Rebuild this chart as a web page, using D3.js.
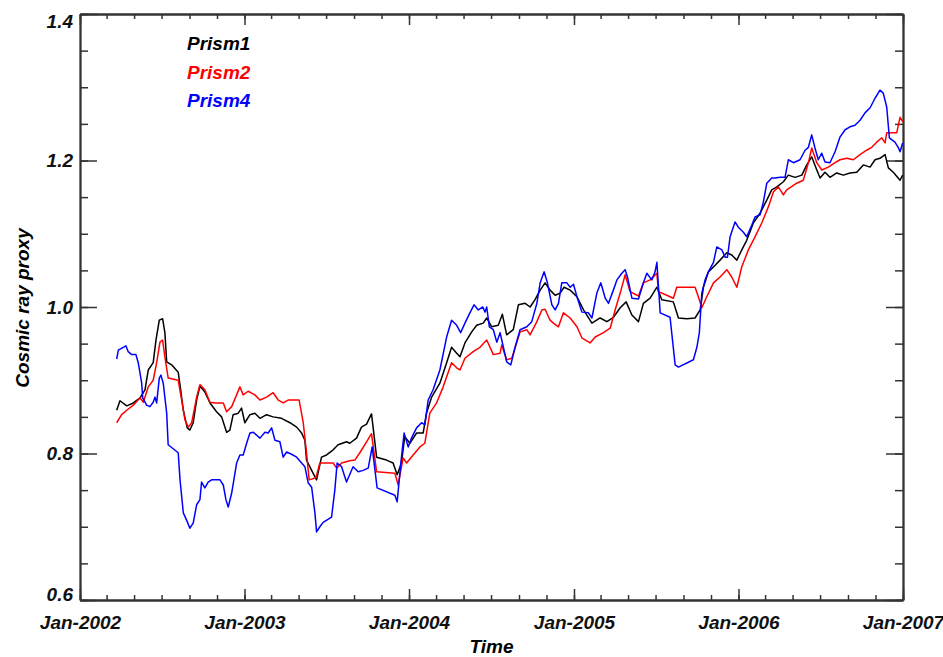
<!DOCTYPE html>
<html>
<head>
<meta charset="utf-8">
<script src="https://cdn.jsdelivr.net/npm/d3@7"></script>
<style>
  body { margin: 0; background: #fff; }
  svg { display: block; }
  .lbl { font-family: "Liberation Sans", Arial, sans-serif; font-weight: bold; font-style: italic; }
</style>
</head>
<body>
<div id="chart"></div>
<script>
// values: [decimal year, proxy value]
const prism1 = [
  [2002.223,0.859],[2002.243,0.872],[2002.284,0.865],[2002.324,0.869],[2002.365,0.876],[2002.395,0.887],
  [2002.415,0.914],[2002.445,0.924],[2002.462,0.955],[2002.482,0.982],[2002.502,0.984],[2002.516,0.965],
  [2002.527,0.925],[2002.557,0.921],[2002.597,0.911],[2002.612,0.887],[2002.628,0.859],[2002.652,0.835],
  [2002.668,0.832],[2002.688,0.842],[2002.709,0.873],[2002.729,0.892],[2002.759,0.884],[2002.790,0.869],
  [2002.830,0.857],[2002.861,0.850],[2002.891,0.829],[2002.911,0.832],[2002.931,0.853],[2002.962,0.855],
  [2002.982,0.862],[2003.002,0.842],[2003.033,0.853],[2003.063,0.855],[2003.094,0.848],[2003.134,0.853],
  [2003.174,0.850],[2003.225,0.848],[2003.276,0.842],[2003.317,0.836],[2003.347,0.828],[2003.367,0.818],
  [2003.377,0.791],[2003.408,0.777],[2003.438,0.764],[2003.468,0.795],[2003.499,0.798],[2003.539,0.805],
  [2003.569,0.812],[2003.620,0.816],[2003.640,0.814],[2003.681,0.821],[2003.711,0.836],[2003.742,0.840],
  [2003.772,0.854],[2003.803,0.795],[2003.863,0.791],[2003.903,0.787],[2003.928,0.771],[2003.954,0.787],
  [2003.974,0.823],[2004.005,0.814],[2004.046,0.828],[2004.086,0.828],[2004.106,0.855],[2004.137,0.877],
  [2004.187,0.896],[2004.228,0.924],[2004.258,0.945],[2004.289,0.937],[2004.309,0.932],[2004.339,0.951],
  [2004.380,0.966],[2004.410,0.975],[2004.450,0.978],[2004.471,0.985],[2004.501,0.973],[2004.541,0.975],
  [2004.566,0.990],[2004.592,0.962],[2004.632,0.969],[2004.663,1.003],[2004.704,1.005],[2004.734,1.000],
  [2004.764,1.010],[2004.795,1.023],[2004.825,1.033],[2004.855,1.023],[2004.886,1.016],[2004.916,1.019],
  [2004.940,1.027],[2004.977,1.023],[2005.018,1.014],[2005.058,0.996],[2005.109,0.978],[2005.159,0.985],
  [2005.200,0.980],[2005.240,0.986],[2005.281,0.999],[2005.317,1.007],[2005.352,0.989],[2005.392,0.980],
  [2005.422,1.005],[2005.463,1.012],[2005.504,1.027],[2005.534,1.010],[2005.604,1.007],[2005.635,0.985],
  [2005.686,0.984],[2005.736,0.985],[2005.767,0.996],[2005.787,1.027],[2005.817,1.048],[2005.858,1.057],
  [2005.888,1.064],[2005.929,1.074],[2005.959,1.071],[2005.990,1.064],[2006.020,1.078],[2006.050,1.091],
  [2006.091,1.115],[2006.131,1.128],[2006.172,1.146],[2006.202,1.160],[2006.233,1.164],[2006.273,1.171],
  [2006.303,1.180],[2006.344,1.177],[2006.385,1.180],[2006.415,1.194],[2006.445,1.205],[2006.476,1.187],
  [2006.496,1.176],[2006.526,1.184],[2006.556,1.177],[2006.597,1.183],[2006.637,1.180],[2006.678,1.183],
  [2006.719,1.184],[2006.759,1.194],[2006.800,1.191],[2006.830,1.201],[2006.860,1.203],[2006.891,1.208],
  [2006.911,1.190],[2006.941,1.184],[2006.982,1.173],[2006.998,1.180]
];
const prism2 = [
  [2002.223,0.842],[2002.253,0.853],[2002.284,0.859],[2002.324,0.866],[2002.365,0.876],[2002.385,0.870],
  [2002.415,0.891],[2002.445,0.900],[2002.466,0.924],[2002.486,0.952],[2002.502,0.955],[2002.516,0.932],
  [2002.536,0.903],[2002.597,0.900],[2002.618,0.873],[2002.638,0.846],[2002.658,0.836],[2002.679,0.842],
  [2002.709,0.877],[2002.729,0.894],[2002.759,0.887],[2002.790,0.870],[2002.820,0.869],[2002.871,0.869],
  [2002.891,0.857],[2002.922,0.864],[2002.952,0.880],[2002.972,0.891],[2002.992,0.880],[2003.022,0.885],
  [2003.063,0.880],[2003.094,0.873],[2003.134,0.877],[2003.174,0.883],[2003.205,0.873],[2003.235,0.869],
  [2003.265,0.873],[2003.296,0.873],[2003.332,0.873],[2003.357,0.842],[2003.377,0.801],[2003.393,0.764],
  [2003.434,0.767],[2003.458,0.787],[2003.539,0.787],[2003.560,0.780],[2003.590,0.787],[2003.640,0.790],
  [2003.671,0.791],[2003.701,0.801],[2003.742,0.816],[2003.772,0.827],[2003.803,0.775],[2003.914,0.773],
  [2003.934,0.757],[2003.964,0.794],[2003.985,0.787],[2004.025,0.798],[2004.066,0.809],[2004.096,0.814],
  [2004.126,0.855],[2004.167,0.869],[2004.207,0.891],[2004.258,0.924],[2004.289,0.917],[2004.309,0.914],
  [2004.339,0.930],[2004.389,0.939],[2004.430,0.945],[2004.471,0.955],[2004.511,0.935],[2004.552,0.937],
  [2004.562,0.948],[2004.592,0.928],[2004.623,0.930],[2004.673,0.966],[2004.714,0.969],[2004.734,0.962],
  [2004.775,0.980],[2004.805,0.996],[2004.825,0.997],[2004.855,0.982],[2004.875,0.978],[2004.906,0.973],
  [2004.936,0.992],[2004.977,0.985],[2005.018,0.973],[2005.048,0.958],[2005.098,0.951],[2005.129,0.959],
  [2005.179,0.965],[2005.220,0.971],[2005.250,0.996],[2005.281,1.019],[2005.311,1.044],[2005.341,1.021],
  [2005.392,1.015],[2005.422,1.033],[2005.463,1.037],[2005.504,1.046],[2005.513,1.021],[2005.564,1.016],
  [2005.604,1.012],[2005.625,1.027],[2005.676,1.027],[2005.736,1.027],[2005.756,1.014],[2005.777,0.999],
  [2005.807,1.014],[2005.848,1.033],[2005.888,1.041],[2005.929,1.051],[2005.959,1.041],[2005.990,1.027],
  [2006.020,1.055],[2006.060,1.078],[2006.101,1.096],[2006.142,1.115],[2006.182,1.137],[2006.212,1.157],
  [2006.242,1.164],[2006.273,1.153],[2006.293,1.160],[2006.354,1.169],[2006.394,1.173],[2006.425,1.197],
  [2006.445,1.217],[2006.476,1.197],[2006.506,1.187],[2006.546,1.191],[2006.587,1.197],[2006.617,1.201],
  [2006.658,1.203],[2006.698,1.201],[2006.739,1.208],[2006.779,1.214],[2006.810,1.218],[2006.840,1.225],
  [2006.871,1.231],[2006.891,1.224],[2006.901,1.238],[2006.962,1.238],[2006.982,1.259],[2006.998,1.253]
];
const prism4 = [
  [2002.223,0.929],[2002.233,0.941],[2002.263,0.945],[2002.279,0.947],[2002.293,0.939],[2002.314,0.935],
  [2002.340,0.935],[2002.354,0.924],[2002.375,0.896],[2002.381,0.876],[2002.405,0.866],[2002.425,0.864],
  [2002.445,0.870],[2002.456,0.877],[2002.466,0.869],[2002.482,0.903],[2002.492,0.907],[2002.506,0.896],
  [2002.527,0.855],[2002.536,0.812],[2002.597,0.801],[2002.608,0.764],[2002.628,0.719],[2002.648,0.709],
  [2002.668,0.698],[2002.688,0.705],[2002.709,0.730],[2002.729,0.737],[2002.739,0.761],[2002.759,0.753],
  [2002.779,0.761],[2002.800,0.764],[2002.851,0.764],[2002.871,0.757],[2002.887,0.737],[2002.901,0.727],
  [2002.922,0.746],[2002.952,0.787],[2002.972,0.798],[2002.992,0.798],[2003.013,0.814],[2003.033,0.828],
  [2003.053,0.829],[2003.074,0.825],[2003.094,0.821],[2003.124,0.829],[2003.144,0.828],[2003.165,0.835],
  [2003.185,0.818],[2003.215,0.816],[2003.235,0.795],[2003.256,0.802],[2003.286,0.799],[2003.317,0.795],
  [2003.347,0.787],[2003.367,0.782],[2003.387,0.760],[2003.408,0.754],[2003.428,0.719],[2003.438,0.693],
  [2003.458,0.700],[2003.478,0.706],[2003.529,0.713],[2003.549,0.750],[2003.563,0.787],[2003.590,0.782],
  [2003.620,0.761],[2003.660,0.782],[2003.691,0.775],[2003.721,0.777],[2003.752,0.780],[2003.776,0.809],
  [2003.806,0.753],[2003.914,0.743],[2003.928,0.734],[2003.948,0.782],[2003.970,0.828],[2003.995,0.809],
  [2004.015,0.821],[2004.046,0.835],[2004.076,0.842],[2004.096,0.839],[2004.116,0.873],[2004.146,0.887],
  [2004.187,0.914],[2004.228,0.959],[2004.258,0.982],[2004.289,0.975],[2004.313,0.965],[2004.339,0.978],
  [2004.369,0.992],[2004.394,1.003],[2004.420,0.996],[2004.447,1.000],[2004.461,0.993],[2004.471,1.000],
  [2004.487,0.973],[2004.511,0.969],[2004.532,0.952],[2004.552,0.965],[2004.572,0.945],[2004.592,0.925],
  [2004.617,0.921],[2004.643,0.945],[2004.673,0.969],[2004.714,0.973],[2004.744,0.980],[2004.775,1.005],
  [2004.795,1.033],[2004.819,1.048],[2004.839,1.033],[2004.866,1.003],[2004.886,0.996],[2004.906,1.005],
  [2004.926,1.033],[2004.957,1.033],[2004.977,1.027],[2004.997,1.031],[2005.018,1.014],[2005.048,0.993],
  [2005.088,0.992],[2005.109,0.985],[2005.139,1.019],[2005.163,1.033],[2005.190,1.012],[2005.210,1.005],
  [2005.236,1.021],[2005.261,1.037],[2005.291,1.046],[2005.311,1.051],[2005.325,1.041],[2005.352,1.012],
  [2005.392,1.011],[2005.422,1.033],[2005.443,1.046],[2005.473,1.037],[2005.493,1.048],[2005.504,1.061],
  [2005.524,0.992],[2005.584,0.986],[2005.615,0.921],[2005.635,0.918],[2005.726,0.928],[2005.747,0.945],
  [2005.762,0.965],[2005.777,1.019],[2005.797,1.037],[2005.817,1.048],[2005.848,1.061],[2005.868,1.082],
  [2005.899,1.078],[2005.919,1.068],[2005.933,1.068],[2005.949,1.096],[2005.979,1.116],[2005.999,1.109],
  [2006.030,1.102],[2006.050,1.096],[2006.081,1.112],[2006.101,1.123],[2006.131,1.126],[2006.151,1.143],
  [2006.172,1.169],[2006.202,1.176],[2006.222,1.176],[2006.253,1.177],[2006.283,1.177],[2006.303,1.201],
  [2006.334,1.197],[2006.374,1.201],[2006.405,1.214],[2006.425,1.218],[2006.445,1.235],[2006.465,1.217],
  [2006.485,1.201],[2006.506,1.210],[2006.526,1.198],[2006.556,1.197],[2006.587,1.212],[2006.617,1.232],
  [2006.648,1.242],[2006.678,1.246],[2006.708,1.248],[2006.739,1.255],[2006.769,1.265],[2006.800,1.272],
  [2006.830,1.285],[2006.860,1.296],[2006.880,1.292],[2006.901,1.273],[2006.917,1.231],[2006.951,1.225],
  [2006.971,1.218],[2006.982,1.212],[2006.998,1.224]
];

const seriesNames = ["Prism1", "Prism2", "Prism4"];
const seriesColors = ["#000000", "#ff0000", "#0000ff"];
const yMajorTicks = [0.6, 0.8, 1.0, 1.2, 1.4];
const yMinorTicks = [0.6, 0.65, 0.7, 0.75, 0.8, 0.85, 0.9, 0.95, 1.0, 1.05, 1.1, 1.15, 1.2, 1.25, 1.3, 1.35, 1.4];
const xLabel = "Time";
const yLabel = "Cosmic ray proxy";

const width = 943, height = 657;
const plotLeft = 80, plotRight = 903, plotTop = 14, plotBottom = 600;
const axisColor = "#333";

// decimal year -> UTC date
function toDate(v) {
    var yr = Math.floor(v);
    var a = Date.UTC(yr, 0, 1), b = Date.UTC(yr + 1, 0, 1);
    return new Date(a + (v - yr) * (b - a));
}

const x = d3.scaleUtc()
    .domain([new Date(Date.UTC(2002, 0, 1)), new Date(Date.UTC(2007, 0, 1))])
    .range([plotLeft, plotRight]);
const y = d3.scaleLinear().domain([0.6, 1.4]).range([plotBottom, plotTop]);

const svg = d3.select("#chart").append("svg")
    .attr("width", width)
    .attr("height", height);

const xMajor = d3.utcYear.range(new Date(Date.UTC(2002, 0, 1)), new Date(Date.UTC(2007, 0, 2)));
const xMinor = d3.utcMonth.every(2).range(new Date(Date.UTC(2002, 0, 1)), new Date(Date.UTC(2007, 0, 2)));

function styleAxis(g) {
    g.attr("font-family", null).attr("font-size", null);
    g.selectAll("path.domain").attr("stroke", axisColor).attr("stroke-width", 1.8);
    g.selectAll(".tick line").attr("stroke", axisColor).attr("stroke-width", 1.5);
    g.selectAll("text").attr("class", "lbl").attr("fill", "#111")
        .style("font-size", "19px");
}

// bottom axis
svg.append("g").attr("transform", "translate(0," + plotBottom + ")")
    .call(d3.axisBottom(x).tickValues(xMinor).tickSize(-5).tickSizeOuter(0).tickFormat(""))
    .call(styleAxis);
svg.append("g").attr("transform", "translate(0," + plotBottom + ")")
    .call(d3.axisBottom(x).tickValues(xMajor).tickSize(-11).tickSizeOuter(0)
        .tickPadding(16).tickFormat(d3.utcFormat("%b-%Y")))
    .call(styleAxis);
// top axis
svg.append("g").attr("transform", "translate(0," + plotTop + ")")
    .call(d3.axisTop(x).tickValues(xMinor).tickSize(-5).tickSizeOuter(0).tickFormat(""))
    .call(styleAxis);
svg.append("g").attr("transform", "translate(0," + plotTop + ")")
    .call(d3.axisTop(x).tickValues(xMajor).tickSize(-11).tickSizeOuter(0).tickFormat(""))
    .call(styleAxis);
// left axis
svg.append("g").attr("transform", "translate(" + plotLeft + ",0)")
    .call(d3.axisLeft(y).tickValues(yMinorTicks).tickSize(-8).tickSizeOuter(0).tickFormat(""))
    .call(styleAxis);
const yAxisG = svg.append("g").attr("transform", "translate(" + plotLeft + ",0)")
    .call(d3.axisLeft(y).tickValues(yMajorTicks).tickSize(-17).tickSizeOuter(0)
        .tickPadding(7).tickFormat(d3.format(".1f")))
    .call(styleAxis);
// IDL keeps the end labels inside the axis range
yAxisG.selectAll(".tick text").attr("dy", function(d) {
    if (d === 1.4) return "0.72em";
    if (d === 0.6) return "0em";
    return "0.34em";
});
// right axis
svg.append("g").attr("transform", "translate(" + plotRight + ",0)")
    .call(d3.axisRight(y).tickValues(yMinorTicks).tickSize(-8).tickSizeOuter(0).tickFormat(""))
    .call(styleAxis);
svg.append("g").attr("transform", "translate(" + plotRight + ",0)")
    .call(d3.axisRight(y).tickValues(yMajorTicks).tickSize(-17).tickSizeOuter(0).tickFormat(""))
    .call(styleAxis);

// series
const line = d3.line()
    .x(function(d) { return x(toDate(d[0])); })
    .y(function(d) { return y(d[1]); });
[prism1, prism2, prism4].forEach(function(s, i) {
    svg.append("path")
        .datum(s)
        .attr("fill", "none")
        .attr("stroke", seriesColors[i])
        .attr("stroke-width", 1.5)
        .attr("stroke-linejoin", "round")
        .attr("d", line);
});

// legend
seriesNames.forEach(function(n, i) {
    svg.append("text").attr("class", "lbl")
        .attr("x", 187).attr("y", 50 + i * 28.5)
        .attr("fill", seriesColors[i])
        .style("font-size", "19px")
        .text(n);
});

// axis titles
svg.append("text").attr("class", "lbl")
    .attr("x", (plotLeft + plotRight) / 2).attr("y", 653)
    .attr("text-anchor", "middle")
    .style("font-size", "19px")
    .text(xLabel);
svg.append("text").attr("class", "lbl")
    .attr("transform", "translate(29,308) rotate(-90)")
    .attr("text-anchor", "middle")
    .style("font-size", "19px")
    .text(yLabel);
</script>
</body>
</html>
